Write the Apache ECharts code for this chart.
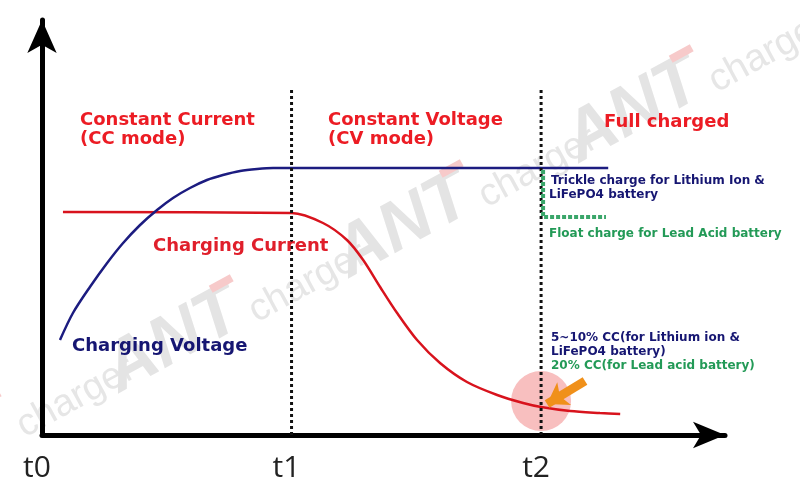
<!DOCTYPE html>
<html><head><meta charset="utf-8">
<script src="https://cdn.jsdelivr.net/npm/echarts@6/dist/echarts.min.js"></script>
<style>html,body{margin:0;padding:0;background:#fff}#c{width:800px;height:500px}</style>
</head><body><div id="c"></div>
<script>
// ---- data (x in "t" units: t0=0, t1=1, t2=2; y in arbitrary level units) ----
const tickLabels = ['t0', 't1', 't2'];
const voltageX = [0.072, 0.124, 0.192, 0.261, 0.325, 0.393, 0.461, 0.525, 0.593, 0.661, 0.725, 0.794, 0.862, 0.926, 1.0, 2.269];
const voltageY = [95, 122, 148, 172, 192, 210, 225, 237, 247, 255, 260, 264, 266, 267, 267, 267];
const currentX = [0.084, 1.0, 1.126, 1.222, 1.287, 1.355, 1.423, 1.503, 1.595, 1.703, 1.824, 1.928, 2.0, 2.116, 2.236, 2.317];
const currentY = [223, 222, 212, 195, 175, 148, 122, 95, 72, 53, 40, 32, 28, 24, 22, 21];
const phaseX = [1, 2];
const phaseTop = 347;
const floatX = [2.008, 2.008, 2.26];
const floatY = [265, 218, 218];
const cutoffPoint = [2.0, 34];
const arrowFrom = [2.176, 54];
const arrowTo = [2.024, 31];

const zip = (xs, ys) => xs.map((x, i) => [x, ys[i]]);

const RED = '#ec1c24', NAVY = '#161672', GREEN = '#239a57';
const BIG = 'bold 18px "DejaVu Sans"';
const SMALL = 'bold 12px "DejaVu Sans"';

function txt(text, x, y, font, fill) {
  return { type: 'text', x: x, y: y, z: 20,
    style: { text: text, font: font, fill: fill, textAlign: 'left', align: 'left', textVerticalAlign: 'middle', verticalAlign: 'middle' } };
}
function wm(x, y) {
  return { type: 'group', x: x, y: y, rotation: 0.5, z: 0, silent: true, children: [
    { type: 'text', x: 0, y: -25, style: { text: 'ANT', font: 'italic bold 70px "Liberation Sans"', fill: '#e4e4e4', textVerticalAlign: 'middle', verticalAlign: 'middle' } },
    { type: 'rect', shape: { x: 130, y: -57, width: 24, height: 8 }, style: { fill: '#f7caca' } },
    { type: 'text', x: 154, y: -12, style: { text: 'charger', font: '38px "Liberation Sans"', fill: '#e6e6e6', textVerticalAlign: 'middle', verticalAlign: 'middle' } }
  ]};
}

const chart = echarts.init(document.getElementById('c'), null, { renderer: 'canvas' });
chart.setOption({
  animation: false,
  backgroundColor: '#fff',
  grid: { left: 42, right: 75, top: 20, bottom: 65, outerBoundsMode: 'none' },
  xAxis: {
    type: 'value', min: 0, max: 2.737, interval: 1,
    axisLine: { show: true, onZero: false, symbol: ['none', 'arrow'], symbolSize: [20, 32], lineStyle: { color: '#000', width: 5 } },
    axisTick: { show: false }, splitLine: { show: false },
    axisLabel: { margin: 18, fontSize: 30, color: '#222', fontFamily: '"Open Sans"', padding: [0, 10, 0, 0],
      showMaxLabel: false,
      formatter: v => (Math.abs(v - Math.round(v)) < 1e-6 && tickLabels[Math.round(v)]) ? tickLabels[Math.round(v)] : '' }
  },
  yAxis: {
    type: 'value', min: 0, max: 415,
    axisLine: { show: true, onZero: false, symbol: ['none', 'arrow'], symbolSize: [22, 33], lineStyle: { color: '#000', width: 5 } },
    axisTick: { show: false }, splitLine: { show: false }, axisLabel: { show: false }
  },
  graphic: [
    wm(-110, 513), wm(122, 398), wm(352, 283), wm(582, 168),
    txt('Constant Current', 80, 120, BIG, RED),
    txt('(CC mode)', 80, 139, BIG, RED),
    txt('Constant Voltage', 328, 120, BIG, RED),
    txt('(CV mode)', 328, 139, BIG, RED),
    txt('Full charged', 604, 122, BIG, RED),
    txt('Charging Current', 153, 246, BIG, '#e01f2b'),
    txt('Charging Voltage', 72, 346, BIG, NAVY),
    txt('Trickle charge for Lithium Ion &', 551, 181, SMALL, NAVY),
    txt('LiFePO4 battery', 549, 195, SMALL, NAVY),
    txt('Float charge for Lead Acid battery', 549, 234, SMALL, GREEN),
    txt('5~10% CC(for Lithium ion &', 551, 338, SMALL, NAVY),
    txt('LiFePO4 battery)', 551, 352, SMALL, NAVY),
    txt('20% CC(for Lead acid battery)', 551, 366, SMALL, GREEN)
  ],
  series: [
    { type: 'scatter', data: [cutoffPoint], symbolSize: 60, itemStyle: { color: '#f8bfbf', opacity: 1 }, z: 1, silent: true },
    { type: 'line', data: zip(currentX, currentY), smooth: 0.3, showSymbol: false, lineStyle: { color: '#d8131d', width: 2.5 }, z: 3 },
    { type: 'line', data: zip(voltageX, voltageY), smooth: 0.3, showSymbol: false, lineStyle: { color: '#1c1c80', width: 2.5 }, z: 3 },
    ...phaseX.map(x => ({ type: 'line', data: [[x, 0], [x, phaseTop]], showSymbol: false, lineStyle: { color: '#111', width: 3, type: [3, 3] }, z: 4 })),
    { type: 'line', data: zip(floatX, floatY), showSymbol: false, lineStyle: { color: '#3aa66a', width: 4, type: [4, 2] }, z: 5 },
    { type: 'lines', coordinateSystem: 'cartesian2d', data: [{ coords: [arrowFrom, arrowTo] }], symbol: ['none', 'arrow'], symbolSize: [20, 20],
      lineStyle: { color: '#f0901a', width: 9, opacity: 1, curveness: 0 }, z: 6 }
  ]
});
</script></body></html>
